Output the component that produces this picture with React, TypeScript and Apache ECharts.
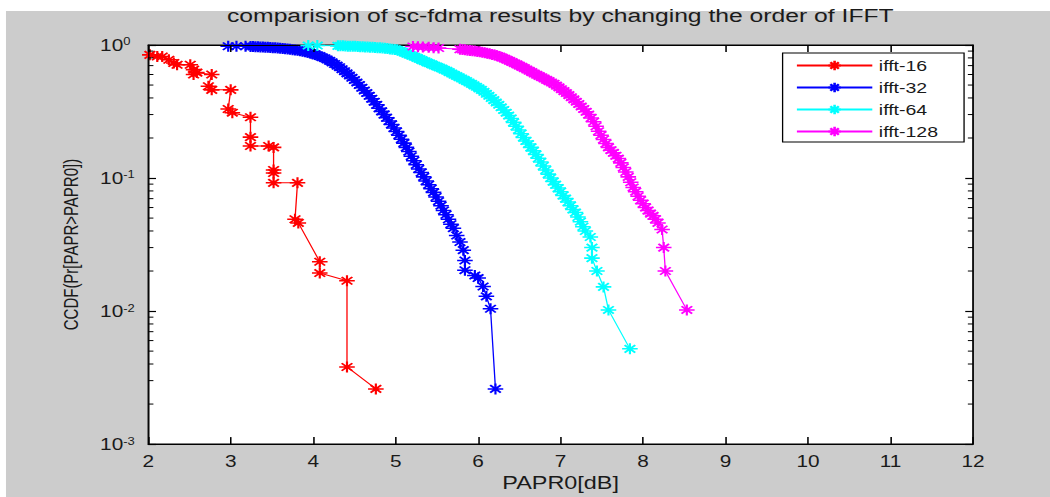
import React, { useEffect, useRef } from "react";
import * as echarts from "echarts";

// ---- data ----
const xTicks = [2, 3, 4, 5, 6, 7, 8, 9, 10, 11, 12];
const minorTickValues = [
  0.002, 0.003, 0.004, 0.005, 0.006, 0.007, 0.008, 0.009,
  0.02, 0.03, 0.04, 0.05, 0.06, 0.07, 0.08, 0.09,
  0.2, 0.3, 0.4, 0.5, 0.6, 0.7, 0.8, 0.9,
];
const seriesNames = ["ifft-16", "ifft-32", "ifft-64", "ifft-128"];

const ifft16X = [2.02, 2.11, 2.17, 2.25, 2.31, 2.35, 2.51, 2.55, 2.55, 2.59, 2.77, 2.73, 2.77, 3.0, 2.97, 3.02, 3.24, 3.24, 3.24, 3.46, 3.52, 3.52, 3.52, 3.52, 3.81, 3.78, 3.82, 4.08, 4.08, 4.41, 4.41, 4.76];
const ifft16Y = [0.843, 0.819, 0.819, 0.774, 0.732, 0.711, 0.711, 0.653, 0.6, 0.62, 0.6, 0.49, 0.46, 0.46, 0.33, 0.31, 0.286, 0.203, 0.174, 0.174, 0.17, 0.115, 0.109, 0.092, 0.092, 0.049, 0.046, 0.0235, 0.0193, 0.0169, 0.0038, 0.0026];

const ifft32X = [2.97, 3.07, 3.18, 3.24, 3.27, 3.3, 3.33, 3.36, 3.39, 3.42, 3.45, 3.48, 3.51, 3.54, 3.57, 3.6, 3.63, 3.66, 3.69, 3.72, 3.75, 3.78, 3.81, 3.84, 3.87, 3.9, 3.93, 3.96, 3.99, 4.02, 4.05, 4.08, 4.11, 4.14, 4.17, 4.2, 4.23, 4.26, 4.29, 4.32, 4.35, 4.38, 4.41, 4.44, 4.47, 4.5, 4.53, 4.56, 4.59, 4.62, 4.65, 4.68, 4.71, 4.74, 4.77, 4.8, 4.83, 4.86, 4.89, 4.92, 4.95, 4.98, 5.01, 5.04, 5.07, 5.1, 5.13, 5.16, 5.19, 5.22, 5.25, 5.28, 5.31, 5.34, 5.37, 5.4, 5.43, 5.46, 5.49, 5.52, 5.55, 5.58, 5.61, 5.64, 5.67, 5.7, 5.74, 5.78, 5.82, 5.84, 5.84, 5.96, 6.0, 6.06, 6.1, 6.15, 6.21];
const ifft32Y = [0.978, 0.978, 0.978, 0.976, 0.974, 0.972, 0.97, 0.968, 0.966, 0.963, 0.96, 0.958, 0.955, 0.952, 0.948, 0.945, 0.941, 0.937, 0.933, 0.928, 0.923, 0.918, 0.912, 0.905, 0.898, 0.89, 0.881, 0.872, 0.861, 0.85, 0.838, 0.825, 0.81, 0.795, 0.778, 0.76, 0.74, 0.72, 0.7, 0.68, 0.658, 0.635, 0.612, 0.59, 0.567, 0.545, 0.522, 0.5, 0.477, 0.455, 0.435, 0.415, 0.395, 0.375, 0.355, 0.335, 0.317, 0.3, 0.284, 0.268, 0.253, 0.238, 0.224, 0.21, 0.196, 0.183, 0.17, 0.158, 0.146, 0.135, 0.126, 0.117, 0.11, 0.102, 0.095, 0.089, 0.083, 0.078, 0.072, 0.067, 0.062, 0.057, 0.053, 0.049, 0.045, 0.042, 0.037, 0.033, 0.0287, 0.024, 0.0203, 0.0185, 0.0177, 0.0153, 0.0129, 0.0104, 0.0026];

const ifft64X = [3.94, 4.05, 4.3, 4.33, 4.36, 4.39, 4.42, 4.45, 4.48, 4.51, 4.54, 4.57, 4.6, 4.63, 4.66, 4.69, 4.72, 4.75, 4.78, 4.81, 4.84, 4.87, 4.9, 4.93, 4.96, 4.99, 5.02, 5.05, 5.08, 5.11, 5.14, 5.17, 5.2, 5.23, 5.26, 5.29, 5.32, 5.35, 5.38, 5.41, 5.44, 5.47, 5.5, 5.53, 5.56, 5.59, 5.62, 5.65, 5.68, 5.71, 5.74, 5.77, 5.8, 5.83, 5.86, 5.89, 5.92, 5.95, 5.98, 6.01, 6.04, 6.07, 6.1, 6.13, 6.16, 6.19, 6.22, 6.25, 6.28, 6.31, 6.34, 6.37, 6.4, 6.43, 6.46, 6.49, 6.52, 6.55, 6.58, 6.61, 6.64, 6.67, 6.7, 6.73, 6.76, 6.79, 6.82, 6.85, 6.88, 6.91, 6.94, 6.97, 7.0, 7.03, 7.06, 7.09, 7.12, 7.15, 7.18, 7.21, 7.24, 7.27, 7.3, 7.36, 7.38, 7.38, 7.44, 7.52, 7.58, 7.84];
const ifft64Y = [0.99, 0.99, 0.985, 0.985, 0.985, 0.983, 0.98, 0.98, 0.98, 0.978, 0.975, 0.972, 0.97, 0.968, 0.965, 0.962, 0.96, 0.958, 0.955, 0.952, 0.95, 0.945, 0.94, 0.935, 0.93, 0.925, 0.92, 0.905, 0.89, 0.875, 0.86, 0.845, 0.83, 0.815, 0.8, 0.785, 0.77, 0.755, 0.74, 0.728, 0.715, 0.702, 0.69, 0.678, 0.665, 0.652, 0.64, 0.625, 0.61, 0.597, 0.585, 0.572, 0.56, 0.547, 0.535, 0.522, 0.51, 0.497, 0.485, 0.472, 0.46, 0.445, 0.43, 0.415, 0.4, 0.385, 0.37, 0.355, 0.34, 0.325, 0.31, 0.295, 0.28, 0.262, 0.245, 0.23, 0.215, 0.202, 0.19, 0.18, 0.17, 0.16, 0.15, 0.141, 0.132, 0.123, 0.115, 0.107, 0.1, 0.094, 0.089, 0.084, 0.079, 0.074, 0.07, 0.066, 0.062, 0.058, 0.055, 0.051, 0.047, 0.043, 0.04, 0.036, 0.03, 0.025, 0.02, 0.0152, 0.0102, 0.0052];

const ifft128X = [5.21, 5.27, 5.33, 5.4, 5.46, 5.52, 5.78, 5.81, 5.84, 5.87, 5.9, 5.93, 5.96, 5.99, 6.02, 6.05, 6.08, 6.11, 6.14, 6.17, 6.2, 6.23, 6.26, 6.29, 6.32, 6.35, 6.38, 6.41, 6.44, 6.47, 6.5, 6.53, 6.56, 6.59, 6.62, 6.65, 6.68, 6.71, 6.74, 6.77, 6.8, 6.83, 6.86, 6.89, 6.92, 6.95, 6.98, 7.01, 7.04, 7.07, 7.1, 7.13, 7.16, 7.19, 7.22, 7.25, 7.28, 7.31, 7.34, 7.37, 7.4, 7.43, 7.46, 7.49, 7.52, 7.55, 7.58, 7.61, 7.64, 7.67, 7.7, 7.73, 7.76, 7.79, 7.82, 7.85, 7.88, 7.91, 7.94, 7.97, 8.0, 8.03, 8.06, 8.09, 8.12, 8.15, 8.18, 8.23, 8.25, 8.27, 8.53];
const ifft128Y = [0.975, 0.97, 0.965, 0.96, 0.955, 0.95, 0.93, 0.925, 0.92, 0.915, 0.91, 0.905, 0.9, 0.895, 0.89, 0.882, 0.875, 0.868, 0.86, 0.85, 0.84, 0.83, 0.82, 0.805, 0.79, 0.775, 0.76, 0.745, 0.73, 0.715, 0.7, 0.685, 0.67, 0.655, 0.64, 0.625, 0.61, 0.597, 0.585, 0.572, 0.56, 0.547, 0.535, 0.522, 0.51, 0.495, 0.48, 0.465, 0.45, 0.435, 0.42, 0.405, 0.39, 0.375, 0.36, 0.345, 0.33, 0.315, 0.3, 0.283, 0.265, 0.245, 0.225, 0.21, 0.195, 0.182, 0.17, 0.162, 0.155, 0.147, 0.14, 0.13, 0.12, 0.111, 0.102, 0.093, 0.085, 0.079, 0.073, 0.068, 0.064, 0.06, 0.057, 0.054, 0.052, 0.049, 0.046, 0.041, 0.03, 0.02, 0.0102];

const seriesColors = ["#ff0000", "#0000ff", "#00ffff", "#ff00ff"];

// ---- layout ----
const STRETCH = 1.3; // the reference is horizontally stretched
const W = 808;
const H = 497;
const FONT = "'Liberation Sans', Arial, Helvetica, sans-serif";
const TXT = "#1a1a1a";
const STAR = "path://M5,0L5,10M0,5L10,5M1.6,1.6L8.4,8.4M8.4,1.6L1.6,8.4";

export default function App() {
  const ref = useRef<HTMLDivElement>(null);

  useEffect(() => {
    if (!ref.current) return;
    const chart = echarts.init(ref.current, null, { renderer: "svg" });

    const xs = [ifft16X, ifft32X, ifft64X, ifft128X];
    const ys = [ifft16Y, ifft32Y, ifft64Y, ifft128Y];

    const lineSeries = seriesNames.map((name, i) => ({
      type: "line",
      name,
      data: xs[i].map((x, j) => [x, ys[i][j]]),
      symbol: STAR,
      symbolSize: [12, 11],
      showSymbol: true,
      showAllSymbol: true,
      clip: false,
      lineStyle: { color: seriesColors[i], width: 1 },
      itemStyle: { color: seriesColors[i], borderColor: seriesColors[i], borderWidth: 1.6 },
      emphasis: { disabled: true },
      z: 3 + i,
    }));

    const minorTickSeries = {
      type: "custom",
      name: "minorTicks",
      silent: true,
      clip: false,
      data: minorTickValues.map((v) => [xTicks[0], v]),
      encode: { x: 0, y: 1 },
      renderItem: (_params: any, api: any) => {
        const v = api.value(1);
        const pl = api.coord([xTicks[0], v]);
        const pr = api.coord([xTicks[xTicks.length - 1], v]);
        return {
          type: "group",
          children: [
            { type: "line", shape: { x1: pl[0], y1: pl[1], x2: pl[0] + 4, y2: pl[1] }, style: { stroke: "#000", lineWidth: 1 } },
            { type: "line", shape: { x1: pr[0] - 4, y1: pr[1], x2: pr[0], y2: pr[1] }, style: { stroke: "#000", lineWidth: 1 } },
          ],
        };
      },
      z: 10,
    };

    const commonX = {
      type: "value",
      min: xTicks[0],
      max: xTicks[xTicks.length - 1],
      interval: 1,
      z: 5,
      splitLine: { show: false },
      axisLine: { show: true, lineStyle: { color: "#000", width: 1 } },
      axisTick: { show: true, inside: true, length: 7, lineStyle: { color: "#000", width: 1.2 } },
    };
    const commonY = {
      type: "log",
      logBase: 10,
      min: 0.001,
      max: 1,
      z: 5,
      splitLine: { show: false },
      axisLine: { show: true, lineStyle: { color: "#000", width: 1 } },
      axisTick: { show: true, inside: true, length: 6, lineStyle: { color: "#000", width: 1.2 } },
    };

    chart.setOption({
      animation: false,
      backgroundColor: "#ffffff",
      graphic: {
        elements: [
          { type: "rect", z: -10, silent: true, shape: { x: 4.6, y: 11, width: W, height: H }, style: { fill: "#cccccc" } },
          {
            type: "text",
            z: 10,
            x: 431,
            y: 16,
            style: {
              text: "comparision of sc-fdma results by changing the order of IFFT",
              fontSize: 19,
              fontFamily: FONT,
              fill: TXT,
              align: "center",
              verticalAlign: "middle",
              textAlign: "center",
              textVerticalAlign: "middle",
            },
          },
        ],
      },
      grid: {
        left: 114,
        right: 59.5,
        top: 45,
        bottom: 47,
        z: -5,
        show: true,
        backgroundColor: "#ffffff",
        borderColor: "#000",
        borderWidth: 1,
      },
      legend: {
        data: seriesNames,
        orient: "vertical",
        left: 602,
        top: 53,
        itemWidth: 58,
        itemHeight: 12,
        itemGap: 7,
        padding: [5, 20, 3, 10],
        backgroundColor: "#ffffff",
        borderColor: "#000",
        borderWidth: 1,
        borderRadius: 0,
        textStyle: { fontSize: 15, color: TXT, fontFamily: FONT },
      },
      xAxis: [
        {
          ...commonX,
          position: "bottom",
          name: "PAPR0[dB]",
          nameLocation: "middle",
          nameGap: 29,
          nameTextStyle: { fontSize: 18, color: TXT, fontFamily: FONT },
          axisLabel: { show: true, fontSize: 16, color: TXT, fontFamily: FONT, margin: 9 },
        },
        {
          ...commonX,
          position: "top",
          axisLabel: { show: false },
        },
      ],
      yAxis: [
        {
          ...commonY,
          position: "left",
          name: "CCDF(Pr[PAPR>PAPR0])",
          nameLocation: "middle",
          nameRotate: 90,
          nameGap: 52,
          nameTextStyle: { fontSize: 15, color: TXT, fontFamily: FONT },
          axisLabel: {
            show: true,
            align: "left",
            margin: 37,
            formatter: (v: number) => `{b|10}{s|${Math.round(Math.log10(v))}}`,
            rich: {
              b: { fontSize: 16, color: TXT, fontFamily: FONT, lineHeight: 16, verticalAlign: "bottom", padding: [6, 0, 0, 0] },
              s: { fontSize: 10, color: TXT, fontFamily: FONT, lineHeight: 10, verticalAlign: "top" },
            },
          },
        },
        {
          ...commonY,
          position: "right",
          axisLabel: { show: false },
        },
      ],
      series: [...lineSeries, minorTickSeries],
    });

    return () => chart.dispose();
  }, []);

  return (
    <div
      ref={ref}
      style={{
        position: "absolute",
        left: 0,
        top: 0,
        width: W,
        height: H,
        transform: `scaleX(${STRETCH})`,
        transformOrigin: "0 0",
      }}
    />
  );
}
